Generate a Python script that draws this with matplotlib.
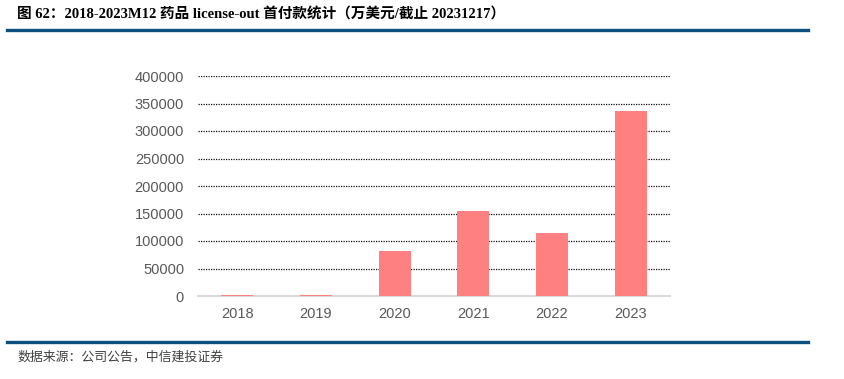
import matplotlib.pyplot as plt
from matplotlib.lines import Line2D

years = ["2018", "2019", "2020", "2021", "2022", "2023"]
payments = [2500, 1000, 81000, 155000, 115000, 336000]
yticks = [0, 50000, 100000, 150000, 200000, 250000, 300000, 350000, 400000]

title = "图 62：2018-2023M12 药品 license-out 首付款统计（万美元/截止 20231217）"
source = "数据来源：公司公告，中信建投证券"

plt.rcParams["font.family"] = ["Liberation Serif", "Noto Sans CJK SC"]

fig = plt.figure(figsize=(8.44, 3.79), dpi=100)
W, H = 844, 379

ax = fig.add_axes([198 / W, 1 - 296 / H, 472 / W, 220 / H])
x = list(range(len(years)))
ax.bar(x, payments, width=0.41, color="#ff8080", zorder=3)

ax.set_xlim(-0.5, len(years) - 0.5)
ax.set_ylim(0, 400000)
ax.set_yticks(yticks)
ax.set_yticklabels([str(v) for v in yticks])
ax.set_xticks(x)
ax.set_xticklabels(years)
for lab in ax.get_xticklabels() + ax.get_yticklabels():
    lab.set_family(["Liberation Sans"])
    lab.set_fontsize(10.5)
    lab.set_color("#595959")
ax.tick_params(length=0, pad=8)
ax.tick_params(axis="y", pad=10)

ax.grid(axis="y", linestyle=(0, (1, 1)), color="#111111", linewidth=0.9, zorder=0)
ax.yaxis.get_gridlines()[0].set_visible(False)
for side in ["top", "right", "left"]:
    ax.spines[side].set_visible(False)
ax.spines["bottom"].set_color("#d9d9d9")
ax.spines["bottom"].set_linewidth(1.5)

fig.text(17 / W, 1 - 15 / H, title, fontsize=10.5, fontweight="bold",
         va="center", ha="left", color="black")
fig.add_artist(Line2D([7 / W, 808 / W], [1 - 30 / H] * 2, color="#0b4f7f", linewidth=2.4))
fig.add_artist(Line2D([7 / W, 808 / W], [1 - 342 / H] * 2, color="#0b4f7f", linewidth=2.4))
fig.text(17 / W, 1 - 357 / H, source, fontsize=9.3, style="italic",
         va="center", ha="left", color="#404040")

fig.savefig("out.png", dpi=100)
